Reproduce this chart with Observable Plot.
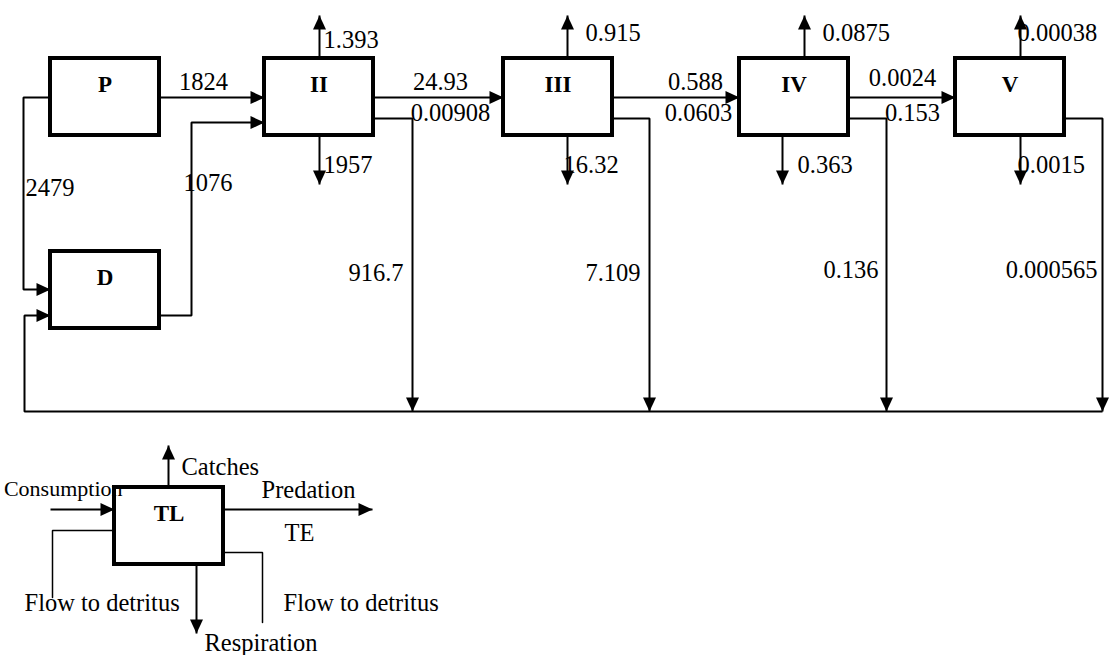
<!DOCTYPE html>
<html><head><meta charset="utf-8">
<script src="https://cdn.jsdelivr.net/npm/d3@7"></script>
<script src="https://cdn.jsdelivr.net/npm/@observablehq/plot@0.6"></script>
<style>html,body{margin:0;padding:0;background:#fff}#chart svg{display:block}</style>
</head><body><div id="chart"></div>
<script>
// ---------------- data ----------------
const levels = ["II", "III", "IV", "V"];
const catches = [1.393, 0.915, 0.0875, 0.00038];
const respiration = [1957, 16.32, 0.363, 0.0015];
const flowToDetritus = [916.7, 7.109, 0.136, 0.000565];
const predation = [1824, 24.93, 0.588, 0.0024];          // P->II, II->III, III->IV, IV->V
const transferEfficiency = [0.00908, 0.0603, 0.153];     // under II->III, III->IV, IV->V
const primaryToDetritus = 2479;
const detritusToII = 1076;
const legendTerms = ["Consumption", "Catches", "Predation", "TE", "Flow to detritus", "Respiration"];

// ---------------- layout (diagram geometry, pixels) ----------------
const W = 1109, H = 655;
const boxW = 109, boxH = 77;
const boxPos = {P: [50, 58], II: [264, 58], III: [503, 58], IV: [739, 58], V: [955, 58], D: [50, 251], TL: [114, 487]};
const upX = [319, 567, 804, 1020], downX = [319, 567, 782, 1020], detX = [412, 649, 886, 1102];
const upLblX = [323, 585, 822, 1017], downLblX = [323, 563, 797, 1017], detLblX = [403, 640, 878, 1097];
const predLblX = [203, 440, 695, 902], effLblX = [450, 698, 912];
const upTip = 15, downTip = 184, spineDy = 39, outDy = 60, bottomY = 411, leftX = 23;

const L = (k) => boxPos[k][0], T = (k) => boxPos[k][1], R = (k) => boxPos[k][0] + boxW, B = (k) => boxPos[k][1] + boxH;

const thick = [], thin = [], heads = [];
let pid = 0;
function path(arr, pts, head) {
  const id = pid++;
  pts.forEach(([x, y]) => arr.push({id, x, y}));
  if (head != null) { const [x, y] = pts[pts.length - 1]; heads.push({x, y, angle: head}); }
}
const chain = ["P", ...levels];
const spineY = T("P") + spineDy;
for (let i = 0; i < chain.length - 1; i++) path(thick, [[R(chain[i]), spineY], [L(chain[i + 1]), spineY]], 0);
// P -> D
path(thick, [[L("P"), spineY], [leftX, spineY], [leftX, T("D") + 38], [L("D"), T("D") + 38]], 0);
// D -> II
path(thick, [[R("D"), T("D") + 64], [191, T("D") + 64], [191, T("II") + 64], [L("II"), T("II") + 64]], 0);
// detritus return
path(thick, [[detX[3], bottomY], [leftX + 1, bottomY], [leftX + 1, T("D") + 64], [L("D"), T("D") + 64]], 0);
levels.forEach((k, i) => {
  path(thick, [[R(k), T(k) + outDy], [detX[i], T(k) + outDy], [detX[i], bottomY]], 90);
  path(thick, [[upX[i], T(k)], [upX[i], upTip]], -90);
  path(thick, [[downX[i], B(k)], [downX[i], downTip]], 90);
});
// legend box flows
const tl = "TL", tlMid = T(tl) + 22;
path(thick, [[50, tlMid], [L(tl), tlMid]], 0);
path(thick, [[R(tl), tlMid], [372, tlMid]], 0);
path(thick, [[168, T(tl)], [168, 445]], -90);
path(thick, [[196, B(tl)], [196, 633]], 90);
path(thin, [[L(tl), T(tl) + 43], [52, T(tl) + 43], [52, 597]]);
path(thin, [[R(tl), T(tl) + 65], [262, T(tl) + 65], [262, 622]]);

const boxes = Object.entries(boxPos).map(([name, [x, y]]) => ({name, x1: x, y1: y, x2: x + boxW, y2: y + boxH}));

const fmt = (v) => String(v);
const numLabels = [];
levels.forEach((k, i) => {
  numLabels.push({x: upLblX[i], y: i === 0 ? 40 : 33, t: fmt(catches[i]), a: "start"});
  numLabels.push({x: downLblX[i], y: 165, t: fmt(respiration[i]), a: "start"});
  numLabels.push({x: detLblX[i], y: i < 2 ? 273 : 270, t: fmt(flowToDetritus[i]), a: "end"});
});
predation.forEach((v, i) => numLabels.push({x: predLblX[i], y: i === 3 ? 78 : 82, t: fmt(v), a: "middle"}));
transferEfficiency.forEach((v, i) => numLabels.push({x: effLblX[i], y: 113, t: fmt(v), a: "middle"}));
numLabels.push({x: 25, y: 188, t: fmt(primaryToDetritus), a: "start"});
numLabels.push({x: 183, y: 183, t: fmt(detritusToII), a: "start"});

const legendText = [
  {x: 181, y: 467, t: legendTerms[1]},
  {x: 261, y: 490, t: legendTerms[2]},
  {x: 284, y: 533, t: legendTerms[3]},
  {x: 24, y: 603, t: legendTerms[4]},
  {x: 283, y: 603, t: legendTerms[4]},
  {x: 204, y: 643, t: legendTerms[5]}
];

const arrowHead = {draw(ctx) { ctx.moveTo(0, 0); ctx.lineTo(-14, -6.5); ctx.lineTo(-14, 6.5); ctx.closePath(); }};
const serif = "'Liberation Serif', 'DejaVu Serif', serif";
const fs = 24.5;

const chart = Plot.plot({
  width: W, height: H, margin: 0,
  x: {domain: [0, W], range: [0, W], axis: null},
  y: {domain: [0, H], range: [0, H], axis: null},
  style: {background: "#fff", fontFamily: serif},
  marks: [
    Plot.line(thick, {x: "x", y: "y", z: "id", stroke: "black", strokeWidth: 2, strokeLinejoin: "miter", strokeLinecap: "butt"}),
    Plot.line(thin, {x: "x", y: "y", z: "id", stroke: "black", strokeWidth: 1.5, strokeLinejoin: "miter"}),
    Plot.rect(boxes, {x1: "x1", x2: "x2", y1: "y1", y2: "y2", fill: "white", stroke: "black", strokeWidth: 4}),
    Plot.dot(heads, {x: "x", y: "y", rotate: "angle", symbol: arrowHead, fill: "black", stroke: "none"}),
    Plot.text(boxes, {x: (d) => (d.x1 + d.x2) / 2, y: (d) => d.y1 + 26, text: "name", fontWeight: "bold", fontSize: 23, fill: "black", lineAnchor: "middle"}),
    Plot.text(numLabels, {x: "x", y: "y", text: "t", textAnchor: "start", fontSize: fs, fill: "black", lineAnchor: "middle", filter: (d) => d.a === "start"}),
    Plot.text(numLabels, {x: "x", y: "y", text: "t", textAnchor: "end", fontSize: fs, fill: "black", lineAnchor: "middle", filter: (d) => d.a === "end"}),
    Plot.text(numLabels, {x: "x", y: "y", text: "t", textAnchor: "middle", fontSize: fs, fill: "black", lineAnchor: "middle", filter: (d) => d.a === "middle"}),
    Plot.text(legendText, {x: "x", y: "y", text: "t", textAnchor: "start", fontSize: fs, fill: "black", lineAnchor: "middle"}),
    Plot.text([legendTerms[0]], {x: 122, y: 488, text: (d) => d, textAnchor: "end", fontSize: 22, fill: "black", lineAnchor: "middle"})
  ]
});
document.getElementById("chart").appendChild(chart);
</script>
</body></html>
